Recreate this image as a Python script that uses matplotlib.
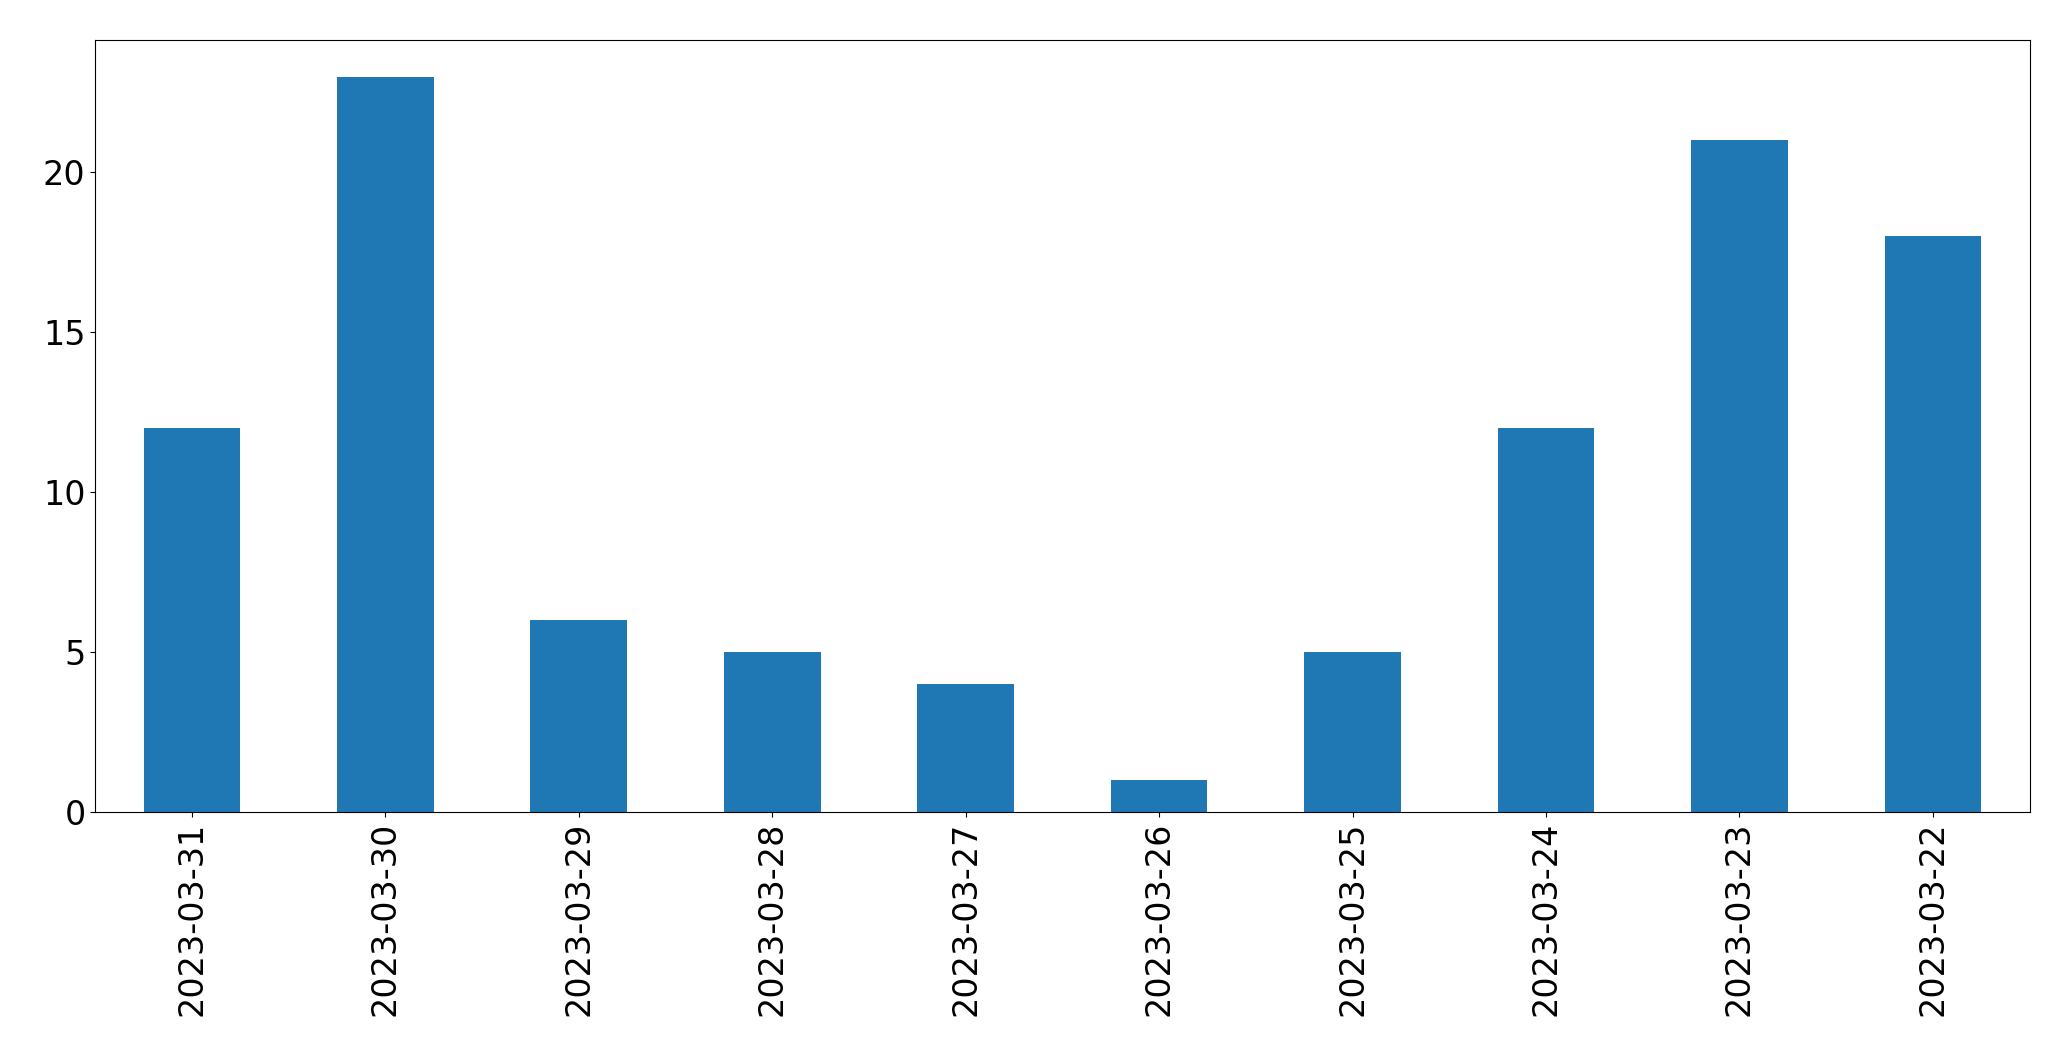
import matplotlib
matplotlib.use("Agg")
import matplotlib.pyplot as plt

dates = ["2023-03-31","2023-03-30","2023-03-29","2023-03-28","2023-03-27",
         "2023-03-26","2023-03-25","2023-03-24","2023-03-23","2023-03-22"]
counts = [12, 23, 6, 5, 4, 1, 5, 12, 21, 18]

fig = plt.figure(figsize=(20.71, 10.61), dpi=100)
ax = fig.add_axes([0.046, 0.235, 0.934, 0.7275])
x = range(len(dates))
ax.bar(x, counts, width=0.5, color="#1f77b4")
ax.set_xlim(-0.5, len(dates) - 0.5)
ax.set_ylim(0, max(counts) * 1.05)
ax.set_xticks(list(x))
ax.set_xticklabels(dates, rotation=90)
ax.set_yticks([0, 5, 10, 15, 20])
ax.tick_params(labelsize=24)
fig.savefig("out.png", dpi=100)
